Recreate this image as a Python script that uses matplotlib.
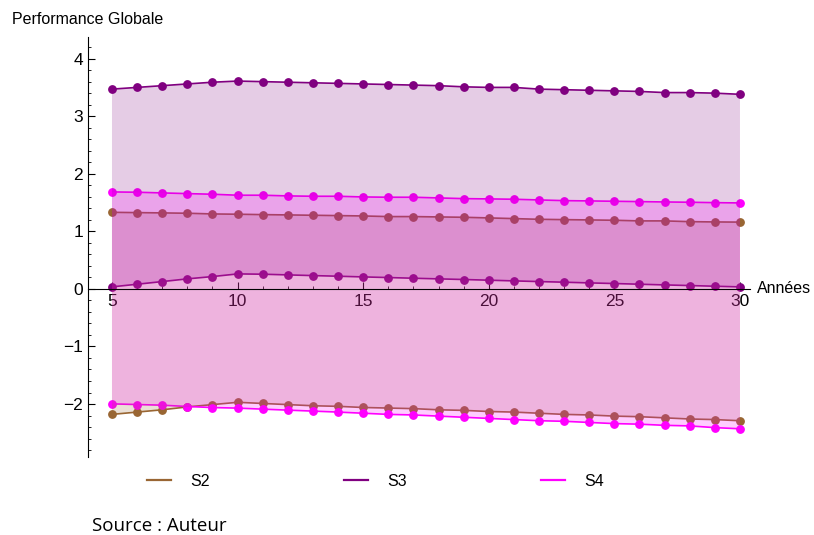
import matplotlib.pyplot as plt
from matplotlib.lines import Line2D
from matplotlib.ticker import MultipleLocator

plt.rcParams['font.family'] = ['Liberation Sans', 'DejaVu Sans']

# années
annees = list(range(5, 31))

# S2 : bornes haute et basse
s2_haut = [1.33, 1.325, 1.32, 1.314, 1.302, 1.297, 1.29, 1.285, 1.279, 1.273, 1.267, 1.256, 1.256,
           1.25, 1.244, 1.233, 1.221, 1.209, 1.203, 1.198, 1.192, 1.181, 1.181, 1.168, 1.163, 1.16]
s2_bas = [-2.18, -2.14, -2.10, -2.05, -2.01, -1.97, -1.99, -2.01, -2.03, -2.04, -2.06, -2.07, -2.08,
          -2.10, -2.11, -2.13, -2.14, -2.16, -2.18, -2.19, -2.21, -2.22, -2.24, -2.26, -2.27, -2.29]

# S3
s3_haut = [3.47, 3.50, 3.53, 3.56, 3.59, 3.61, 3.60, 3.59, 3.58, 3.57, 3.56, 3.55, 3.54,
           3.53, 3.51, 3.50, 3.50, 3.47, 3.46, 3.45, 3.44, 3.43, 3.41, 3.41, 3.40, 3.38]
s3_bas = [0.035, 0.081, 0.127, 0.174, 0.214, 0.26, 0.255, 0.243, 0.231, 0.22, 0.208, 0.197, 0.185,
          0.174, 0.163, 0.151, 0.139, 0.127, 0.116, 0.104, 0.093, 0.081, 0.069, 0.058, 0.046, 0.035]

# S4
s4_haut = [1.684, 1.679, 1.667, 1.655, 1.644, 1.627, 1.627, 1.615, 1.609, 1.609, 1.597, 1.592, 1.592,
           1.58, 1.568, 1.563, 1.557, 1.545, 1.533, 1.528, 1.522, 1.516, 1.51, 1.505, 1.498, 1.493]
s4_bas = [-1.997, -2.009, -2.02, -2.043, -2.061, -2.071, -2.089, -2.106, -2.123, -2.14, -2.16, -2.18, -2.19,
          -2.21, -2.23, -2.25, -2.27, -2.29, -2.30, -2.32, -2.34, -2.35, -2.37, -2.38, -2.41, -2.43]

series = [("S2", s2_haut, s2_bas, "#996633"),
          ("S3", s3_haut, s3_bas, "#800080"),
          ("S4", s4_haut, s4_bas, "#ff00ff")]

fig = plt.figure(figsize=(8.14, 5.35), dpi=100)
ax = fig.add_axes([0.1081, 0.1458, 0.8133, 0.785])

# lignes + points
for nom, haut, bas, c in series:
    for vals in (haut, bas):
        ax.plot(annees, vals, color=c, lw=1.2, marker="o", ms=5.3, zorder=2)

# remplissages (par-dessus les lignes, comme dans l'original)
for nom, haut, bas, c in series:
    ax.fill_between(annees, haut, bas, facecolor=c, alpha=0.2, lw=0, zorder=3)

ax.set_xlim(4.045, 30.4)
ax.set_ylim(-2.92, 4.375)

ax.spines["top"].set_visible(False)
ax.spines["right"].set_visible(False)
ax.spines["bottom"].set_position(("data", 0))
ax.spines["bottom"].set_zorder(5)
ax.spines["left"].set_zorder(5)

ax.xaxis.set_major_locator(MultipleLocator(5))
ax.xaxis.set_minor_locator(MultipleLocator(1))
ax.yaxis.set_major_locator(MultipleLocator(1))
ax.yaxis.set_minor_locator(MultipleLocator(0.2))
ax.set_xticks(range(5, 31, 5))
ax.tick_params(axis="both", which="major", direction="in", length=5, width=0.8, labelsize=12.5)
ax.tick_params(axis="both", which="minor", direction="in", length=2.5, width=0.6)
ax.tick_params(axis="x", pad=4)

fig.text(12 / 814, 1 - 20 / 535, "Performance Globale", fontsize=11.5, ha="left", va="center")
ax.text(1.01, 0, "Années", transform=ax.get_yaxis_transform(), fontsize=11.5, ha="left", va="center")

poignees = [Line2D([0], [0], color=c, lw=1.6) for _, _, _, c in series]
fig.legend(poignees, [s[0] for s in series], loc="center", bbox_to_anchor=(0.4613, 0.1009),
           ncol=3, frameon=False, fontsize=11.5, handlelength=1.5, handletextpad=1.2,
           columnspacing=8.4, borderpad=0)

fig.text(92 / 814, 1 - 526 / 535, "Source : Auteur", fontsize=13.5, family="Open Sans",
         ha="left", va="center")

plt.savefig("out.png", dpi=100)
